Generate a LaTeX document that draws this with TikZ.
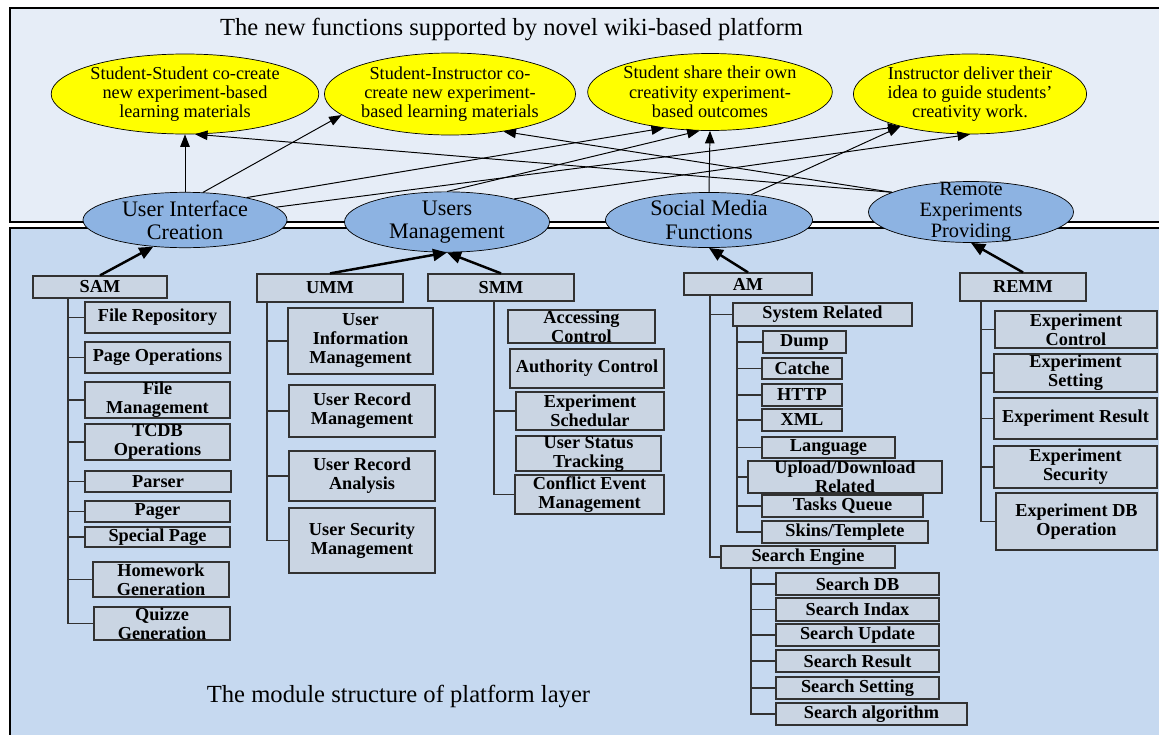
\documentclass[tikz,border=0pt]{standalone}
\usepackage{fontspec}
\setmainfont{Liberation Serif}
\usetikzlibrary{arrows.meta,shapes.geometric}
\definecolor{wktop}{RGB}{230,237,247}
\definecolor{wkbottom}{RGB}{198,217,240}
\definecolor{wkbox}{RGB}{202,213,227}
\definecolor{wkline}{RGB}{50,50,50}
\definecolor{wkyellow}{RGB}{255,255,0}
\definecolor{wkblue}{RGB}{141,179,226}

\begin{document}
\begin{tikzpicture}[x=0.02cm, y=-0.02cm,
  sz/.style 2 args={minimum width=#1*0.02cm, minimum height=#2*0.02cm},
  func/.style={ellipse, draw, fill=wkyellow, inner sep=0pt, align=center, font=\fontsize{10.4}{11}\selectfont},
  part/.style={ellipse, draw, fill=wkblue, inner sep=0pt, align=center, font=\fontsize{12.6}{13.3}\selectfont},
  mod/.style={draw=wkline, fill=wkbox, line width=0.7pt, inner sep=0pt, align=center, font=\fontsize{10.4}{10.8}\selectfont\bfseries},
  link/.style={-{Triangle[length=2.5mm,width=1.9mm]}, line width=0.55pt},
  uplink/.style={-{Triangle[length=2.8mm,width=2.4mm]}, line width=1.4pt},
  tree/.style={wkline, line width=0.75pt}
]
\useasboundingbox (0,0) rectangle (1159,734);
\draw[line width=1.2pt, fill=wktop] (10,8) rectangle (1185,222);
\draw[line width=1.2pt, fill=wkbottom] (10,228) rectangle (1185,760);
\node[anchor=base, font=\fontsize{14}{16}\selectfont] (toptitle) at (511.5,35) {The new functions supported by novel wiki-based platform};
\node[anchor=base, font=\fontsize{14}{16}\selectfont] (bottitle) at (398.5,702) {The module structure of platform layer};

% new functions
\node[func, sz={250}{80}] (y1) at (185,94) {Student-Student co-create\\new experiment-based\\learning materials};
\node[func, sz={239}{82}] (y2) at (450,94) {Student-Instructor co-\\create new experiment-\\based learning materials};
\node[func, sz={233}{77}] (y3) at (710,92) {Student share their own\\creativity experiment-\\based outcomes};
\node[func, sz={233}{80}] (y4) at (970,94) {Instructor deliver their\\idea to guide students’\\creativity work.};

% platform parts
\node[part, sz={204}{53}] (b1) at (185,220) {User Interface\\Creation};
\node[part, sz={205}{54}] (b2) at (447,222) {Users\\Management};
\node[part, sz={207}{54}] (b3) at (709,220) {Social Media\\Functions};
\node[part, sz={205}{61}, label={[align=center, font=\fontsize{11.6}{12}\selectfont]center:Remote\\Experiments\\Providing}] (b4) at (971,212) {};

\draw[link] (b1.north) -- (y1.south);
\draw[link] (b1.57) -- (y2.191);
\draw[link] (b1.20) -- (y3.-142);
\draw[link] (b1.8) -- (y4.-155);
\draw[link] (b2.north) -- (y3.-105);
\draw[link] (b2.19) -- (y4.south);
\draw[link] (b3.north) -- (y3.south);
\draw[link] (b3.31) -- (y4.-155);
\draw[link] (b4.166) -- (y1.-76);
\draw[link] (b4.166) -- (y2.-35);

% modules
\node[mod, sz={134}{22}] (sam) at (100,287) {SAM};
\node[mod, sz={145}{31}] (fr) at (157.5,317.5) {File Repository};
\node[mod, sz={145}{31}] (po) at (157.5,357.5) {Page Operations};
\node[mod, sz={145}{36}] (fm) at (157.5,400) {File\\Management};
\node[mod, sz={145}{36}] (tc) at (157.5,442) {TCDB\\Operations};
\node[mod, sz={146}{21}] (ps) at (158,481.5) {Parser};
\node[mod, sz={145}{21}] (pg) at (157.5,511.5) {Pager};
\node[mod, sz={145}{20}] (sp) at (157.5,537) {Special Page};
\node[mod, sz={136}{35}] (hw) at (161,579.5) {Homework\\Generation};
\node[mod, sz={136}{33}] (qg) at (162,623.5) {Quizze\\Generation};

\node[mod, sz={146}{28}] (umm) at (330,288) {UMM};
\node[mod, sz={145}{66}] (uim) at (360.5,341) {User\\Information\\Management};
\node[mod, sz={146}{52}] (urm) at (362,411) {User Record\\Management};
\node[mod, sz={146}{50}] (ura) at (362,476) {User Record\\Analysis};
\node[mod, sz={146}{65}] (usm) at (362,540.5) {User Security\\Management};

\node[mod, sz={146}{27}] (smm) at (501,287.5) {SMM};
\node[mod, sz={147}{33}] (acc) at (581.5,326.5) {Accessing\\Control};
\node[mod, sz={154}{39}] (auc) at (587,368.5) {Authority Control};
\node[mod, sz={148}{38}] (exs) at (590,411) {Experiment\\Schedular};
\node[mod, sz={145}{35}] (ust) at (588.5,453.5) {User Status\\Tracking};
\node[mod, sz={149}{39}] (cem) at (589.5,494.5) {Conflict Event\\Management};

\node[mod, sz={128}{22}] (am) at (748,284) {AM};
\node[mod, sz={179}{23}] (sr) at (822.5,314.5) {System Related};
\node[mod, sz={83}{22}] (dump) at (804.5,342) {Dump};
\node[mod, sz={80}{21}] (cat) at (802,368.5) {Catche};
\node[mod, sz={80}{22}] (http) at (802,395) {HTTP};
\node[mod, sz={80}{22}] (xml) at (802,420) {XML};
\node[mod, sz={133}{21}] (lang) at (828.5,447.5) {Language};
\node[mod, sz={194}{30}] (upd) at (845,477) {Upload/Download\\Related};
\node[mod, sz={161}{22}] (tq) at (842.5,506) {Tasks Queue};
\node[mod, sz={166}{22}] (sk) at (845,532) {Skins/Templete};
\node[mod, sz={174}{22}] (se) at (808,557) {Search Engine};
\node[mod, sz={163}{22}] (sdb) at (857.5,584) {Search DB};
\node[mod, sz={163}{23}] (sin) at (857.5,609.5) {Search Indax};
\node[mod, sz={163}{22}] (sup) at (857.5,635) {Search Update};
\node[mod, sz={163}{22}] (sre) at (857.5,661) {Search Result};
\node[mod, sz={163}{22}] (sst) at (857.5,688) {Search Setting};
\node[mod, sz={191}{22}] (sal) at (871.5,714) {Search algorithm};

\node[mod, sz={126}{28}] (remm) at (1023,287) {REMM};
\node[mod, sz={162}{37}] (ec) at (1076,329.5) {Experiment\\Control};
\node[mod, sz={163}{38}] (es) at (1075.5,373) {Experiment\\Setting};
\node[mod, sz={163}{41}] (er) at (1075.5,418.5) {Experiment Result};
\node[mod, sz={163}{42}] (esc) at (1075.5,467) {Experiment\\Security};
\node[mod, sz={161}{57}] (edb) at (1076.5,521.5) {Experiment DB\\Operation};

% module trees
\coordinate (samT) at (68,298);
\draw[tree] (samT) |- (qg.west);
\foreach \n in {fr,po,fm,tc,ps,pg,sp,hw} \draw[tree] (samT |- \n.west) -- (\n.west);
\coordinate (ummT) at (267,302);
\draw[tree] (ummT) |- (usm.west);
\foreach \n in {uim,urm,ura} \draw[tree] (ummT |- \n.west) -- (\n.west);
\coordinate (smmT) at (494,301);
\draw[tree] (smmT) |- (cem.west);
\draw[tree] (smmT |- exs.west) -- (exs.west);
\coordinate (amT) at (710,295);
\draw[tree] (amT) |- (se.west);
\draw[tree] (amT |- sr.west) -- (sr.west);
\coordinate (srT) at (737,326);
\draw[tree] (srT) |- (sk.west);
\foreach \n in {dump,cat,http,xml,lang,upd,tq} \draw[tree] (srT |- \n.west) -- (\n.west);
\coordinate (seT) at (751,568);
\draw[tree] (seT) |- (sal.west);
\foreach \n in {sdb,sin,sup,sre,sst} \draw[tree] (seT |- \n.west) -- (\n.west);
\coordinate (remmT) at (981,301);
\draw[tree] (remmT) |- (edb.west);
\foreach \n in {ec,es,er,esc} \draw[tree] (remmT |- \n.west) -- (\n.west);

\draw[uplink] (sam.north) -- (b1.-140);
\draw[uplink] (umm.north) -- (b2.south);
\draw[uplink] (smm.north) -- (b2.south);
\draw[uplink] (am.north) -- (b3.south);
\draw[uplink] (remm.north) -- (b4.south);
\end{tikzpicture}
\end{document}
